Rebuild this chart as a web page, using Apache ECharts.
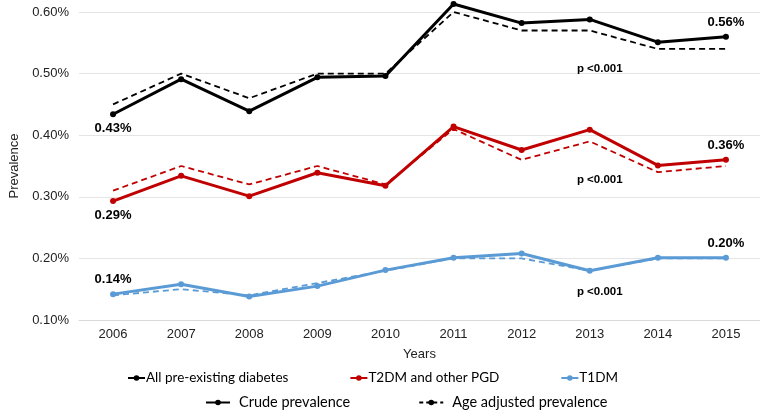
<!DOCTYPE html>
<html>
<head>
<meta charset="utf-8">
<script src="https://cdn.jsdelivr.net/npm/echarts@6/dist/echarts.min.js"></script>
<style>
  html, body { margin: 0; padding: 0; background: #fff; }
  #chart { width: 760px; height: 417px; }
</style>
</head>
<body>
<div id="chart"></div>
<script>
const years = ['2006', '2007', '2008', '2009', '2010', '2011', '2012', '2013', '2014', '2015'];
const yTicks = [0.1, 0.2, 0.3, 0.4, 0.5, 0.6];

// crude prevalence (%)
const allCrude = [0.434, 0.491, 0.439, 0.494, 0.496, 0.613, 0.582, 0.588, 0.551, 0.560];
const t2Crude = [0.293, 0.334, 0.301, 0.339, 0.318, 0.414, 0.376, 0.409, 0.351, 0.360];
const t1Crude = [0.142, 0.158, 0.138, 0.155, 0.181, 0.201, 0.208, 0.180, 0.201, 0.201];

// age adjusted prevalence (%)
const allAdj = [0.45, 0.50, 0.46, 0.50, 0.50, 0.60, 0.57, 0.57, 0.54, 0.54];
const t2Adj = [0.31, 0.35, 0.32, 0.35, 0.32, 0.41, 0.36, 0.39, 0.34, 0.35];
const t1Adj = [0.14, 0.15, 0.14, 0.16, 0.18, 0.20, 0.20, 0.18, 0.20, 0.20];

// p-value notes: [year, value]
const pNotes = [['2013', 0.508], ['2013', 0.327], ['2013', 0.146]];

const SANS = "'Liberation Sans', Arial, Helvetica, sans-serif";
const LEG = "Lato, 'Open Sans', sans-serif";

const groups = [
  { name: 'All pre-existing diabetes', color: '#000000', crude: allCrude, adj: allAdj, firstPos: 'bottom', p: pNotes[0] },
  { name: 'T2DM and other PGD', color: '#c00000', crude: t2Crude, adj: t2Adj, firstPos: 'bottom', p: pNotes[1] },
  { name: 'T1DM', color: '#5b9bd5', crude: t1Crude, adj: t1Adj, firstPos: 'top', p: pNotes[2] },
];

const labelStyle = { fontFamily: SANS, fontSize: 13, fontWeight: 'bold', color: '#000', distance: 5 };

const series = [];
groups.forEach((g) => {
  series.push({
    name: g.name + ' (age adjusted)',
    type: 'line',
    data: g.adj,
    color: g.color,
    symbol: 'none',
    clip: false,
    z: 2,
    lineStyle: { width: 1.8, type: [6, 4], color: g.color },
    markPoint: {
      symbol: 'circle',
      symbolSize: 0,
      data: [{ coord: g.p }],
      label: {
        show: true,
        position: 'inside',
        offset: [10, 0],
        formatter: 'p <0.001',
        fontFamily: SANS,
        fontSize: 11.5,
        fontWeight: 'bold',
        color: '#000',
      },
    },
  });
  const last = g.crude.length - 1;
  series.push({
    name: g.name,
    type: 'line',
    color: g.color,
    symbol: 'circle',
    symbolSize: 6,
    clip: false,
    z: 3,
    lineStyle: { width: 3, color: g.color },
    itemStyle: { color: g.color },
    label: {
      show: false,
      ...labelStyle,
      formatter: (p) => p.value.toFixed(2) + '%',
    },
    data: g.crude.map((v, i) => {
      if (i === 0) return { value: v, label: { show: true, position: g.firstPos } };
      if (i === last) return { value: v, label: { show: true, position: 'top' } };
      return v;
    }),
  });
});

// legend-only series
series.push({
  name: 'Crude prevalence',
  type: 'line',
  data: [],
  color: '#000',
  symbol: 'circle',
  lineStyle: { width: 3, color: '#000' },
});
series.push({
  name: 'Age adjusted prevalence',
  type: 'line',
  data: [],
  color: '#000',
  symbol: 'circle',
  lineStyle: { width: 1.5, type: [4, 3], color: '#000' },
});

const chart = echarts.init(document.getElementById('chart'));
chart.setOption({
  animation: false,
  textStyle: { fontFamily: SANS },
  grid: { left: 73, right: 0, top: 12, bottom: 97 },
  legend: [
    {
      data: groups.map((g) => g.name),
      left: 122,
      top: 366,
      itemWidth: 17,
      itemHeight: 7,
      itemGap: 61,
      selectedMode: false,
      textStyle: { fontFamily: LEG, fontSize: 13.5, color: '#000', padding: [0, 0, 0, -4] },
    },
    {
      data: ['Crude prevalence', 'Age adjusted prevalence'],
      left: 200,
      top: 390,
      itemWidth: 24,
      itemHeight: 7,
      itemGap: 68,
      selectedMode: false,
      textStyle: { fontFamily: LEG, fontSize: 14.5, color: '#000', padding: [0, 0, 0, 4] },
    },
  ],
  xAxis: {
    type: 'category',
    data: years,
    boundaryGap: true,
    name: 'Years',
    nameLocation: 'middle',
    nameGap: 28,
    nameTextStyle: { fontFamily: SANS, fontSize: 13, color: '#222' },
    axisTick: { show: false },
    axisLine: { lineStyle: { color: '#d9d9d9', width: 1 } },
    axisLabel: { fontFamily: SANS, fontSize: 13, color: '#222', margin: 8 },
  },
  yAxis: {
    type: 'value',
    min: yTicks[0],
    max: yTicks[yTicks.length - 1],
    interval: 0.1,
    name: 'Prevalence',
    nameLocation: 'middle',
    nameGap: 58,
    nameTextStyle: { fontFamily: SANS, fontSize: 13, color: '#222' },
    axisLine: { show: false },
    axisTick: { show: false },
    axisLabel: {
      fontFamily: SANS,
      fontSize: 13,
      color: '#222',
      margin: 10,
      formatter: (v) => v.toFixed(2) + '%',
    },
    splitLine: { lineStyle: { color: '#e4e4e4', width: 1 } },
  },
  series: series,
});
</script>
</body>
</html>
